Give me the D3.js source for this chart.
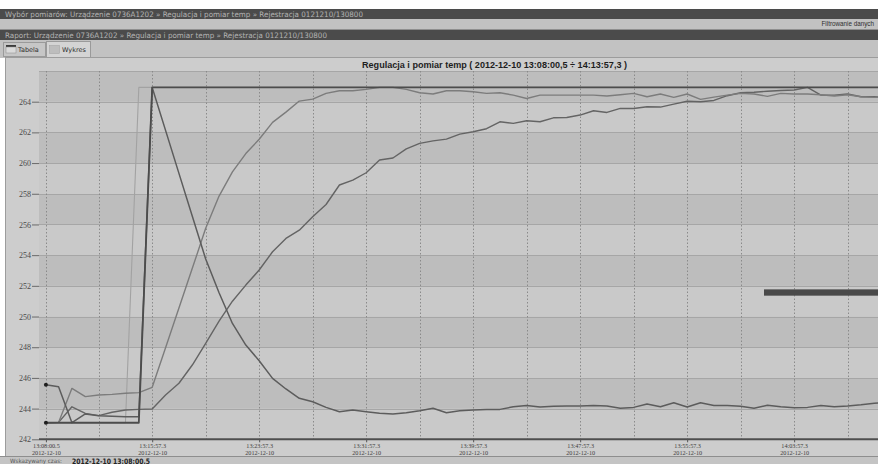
<!DOCTYPE html>
<html>
<head>
<meta charset="utf-8">
<script src="https://cdn.jsdelivr.net/npm/d3@7"></script>
<style>
  html, body { margin: 0; padding: 0; background: #ffffff; overflow: hidden; }
  svg { display: block; }
</style>
</head>
<body>
<svg id="app" width="878" height="464"></svg>
<script>
// ---- Measurement data: Regulacja i pomiar temp, 2012-12-10 ----
const sampleTimes = [
  "13:08:00.5","13:08:57.3","13:09:57.3","13:10:57.3","13:11:57.3","13:12:57.3","13:13:57.3","13:14:57.3",
  "13:15:57.3","13:16:57.3","13:17:57.3","13:18:57.3","13:19:57.3","13:20:57.3","13:21:57.3","13:22:57.3",
  "13:23:57.3","13:24:57.3","13:25:57.3","13:26:57.3","13:27:57.3","13:28:57.3","13:29:57.3","13:30:57.3",
  "13:31:57.3","13:32:57.3","13:33:57.3","13:34:57.3","13:35:57.3","13:36:57.3","13:37:57.3","13:38:57.3",
  "13:39:57.3","13:40:57.3","13:41:57.3","13:42:57.3","13:43:57.3","13:44:57.3","13:45:57.3","13:46:57.3",
  "13:47:57.3","13:48:57.3","13:49:57.3","13:50:57.3","13:51:57.3","13:52:57.3","13:53:57.3","13:54:57.3",
  "13:55:57.3","13:56:57.3","13:57:57.3","13:58:57.3","13:59:57.3","14:00:57.3","14:01:57.3","14:02:57.3",
  "14:03:57.3","14:04:57.3","14:05:57.3","14:06:57.3","14:07:57.3","14:08:57.3","14:09:57.3","14:10:57.3"
];
const rangeStart = "13:08:00.5";
const rangeEnd = "14:13:57.3";
const recordDate = "2012-12-10";

// set value (temperatura zadana)
const setpoint = [
  243.08,243.08,243.08,243.08,243.08,243.08,243.08,264.93,
  264.93,264.93,264.93,264.93,264.93,264.93,264.93,264.93,
  264.93,264.93,264.93,264.93,264.93,264.93,264.93,264.93,
  264.93,264.93,264.93,264.93,264.93,264.93,264.93,264.93,
  264.93,264.93,264.93,264.93,264.93,264.93,264.93,264.93,
  264.93,264.93,264.93,264.93,264.93,264.93,264.93,264.93,
  264.93,264.93,264.93,264.93,264.93,264.93,264.93,264.93,
  264.93,264.93,264.93,264.93,264.93,264.93,264.93,264.93
];
// controller output
const output = [
  243.08,243.08,243.08,243.08,243.08,243.08,243.08,243.08,
  264.93,264.93,264.93,264.93,264.93,264.93,264.93,264.93,
  264.93,264.93,264.93,264.93,264.93,264.93,264.93,264.93,
  264.93,264.93,264.93,264.93,264.93,264.93,264.93,264.93,
  264.93,264.93,264.93,264.93,264.93,264.93,264.93,264.93,
  264.93,264.93,264.93,264.93,264.93,264.93,264.93,264.93,
  264.93,264.93,264.93,264.93,264.93,264.93,264.93,264.93,
  264.93,264.93,264.93,264.93,264.93,264.93,264.93,264.93
];
// probe 1 (falls after the step)
const probe1 = [
  245.56,245.43,243.08,243.65,243.54,243.50,243.47,243.47,
  264.93,262.13,259.33,256.53,253.75,251.55,249.55,248.14,
  247.12,245.97,245.28,244.67,244.45,244.08,243.80,243.91,
  243.80,243.69,243.65,243.73,243.86,244.02,243.73,243.86,
  243.91,243.95,243.95,244.12,244.20,244.10,244.15,244.17,
  244.17,244.20,244.17,244.02,244.08,244.30,244.12,244.38,
  244.10,244.38,244.20,244.20,244.15,244.03,244.22,244.12,
  244.05,244.08,244.20,244.12,244.17,244.25,244.35,244.38
];
// probe 2 (fast rise)
const probe2 = [
  243.08,243.10,245.32,244.78,244.89,244.93,245.00,245.04,
  245.39,247.97,250.55,253.14,255.75,257.85,259.43,260.62,
  261.55,262.65,263.32,264.04,264.17,264.54,264.71,264.71,
  264.80,264.93,264.93,264.80,264.58,264.50,264.71,264.71,
  264.65,264.54,264.58,264.43,264.21,264.43,264.43,264.43,
  264.43,264.43,264.37,264.45,264.54,264.32,264.50,264.28,
  264.50,264.15,264.30,264.43,264.54,264.50,264.35,264.54,
  264.50,264.50,264.45,264.37,264.45,264.32,264.28,264.30
];
// probe 3 (slow rise)
const probe3 = [
  243.08,243.10,244.12,243.69,243.54,243.76,243.91,243.95,
  243.97,244.89,245.65,246.84,248.25,249.70,251.00,252.05,
  253.03,254.22,255.09,255.63,256.50,257.30,258.57,258.89,
  259.37,260.20,260.33,260.93,261.28,261.45,261.56,261.89,
  262.04,262.24,262.69,262.59,262.76,262.69,262.95,262.97,
  263.13,263.41,263.30,263.56,263.56,263.67,263.65,263.84,
  264.03,264.00,264.08,264.39,264.58,264.62,264.68,264.73,
  264.76,264.93,264.43,264.43,264.50,264.32,264.32,264.28
];

const yTicks = [242,244,246,248,250,252,254,256,258,260,262,264];
const xTickTimes = ["13:08:00.5","13:15:57.3","13:23:57.3","13:31:57.3","13:39:57.3","13:47:57.3","13:55:57.3","14:03:57.3"];
const xGridTimes = ["13:08:00.5","13:11:57.3","13:15:57.3","13:19:57.3","13:23:57.3","13:27:57.3","13:31:57.3","13:35:57.3",
                    "13:39:57.3","13:43:57.3","13:47:57.3","13:51:57.3","13:55:57.3","13:59:57.3","14:03:57.3","14:07:57.3","14:11:57.3"];

// cursor bar shown on the right side of the plot
const cursorBarFrom = "14:01:42.1";
const cursorBarValues = [251.36, 251.77];

// ---- helpers ----
function parseClock(s) {
  const [h, m, sec] = s.split(":");
  return new Date(2012, 11, 10, +h, +m, 0, Math.round(parseFloat(sec) * 1000));
}
function clockLabel(d) {
  return d3.timeFormat("%H:%M:%S")(d) + "." + Math.floor(d.getMilliseconds() / 100);
}

const W = 878, H = 464;
const svg = d3.select("#app");
const UI_FONT = "'DejaVu Sans', Verdana, sans-serif";
const AX_FONT = "'Liberation Serif', 'DejaVu Serif', serif";

// ---- application chrome ----
svg.append("rect").attr("x", 0).attr("y", 0).attr("width", W).attr("height", H).attr("fill", "#ffffff");
svg.append("rect").attr("x", 0).attr("y", 9).attr("width", W).attr("height", 10).attr("fill", "#4b4b4b");
svg.append("rect").attr("x", 0).attr("y", 19).attr("width", W).attr("height", 10).attr("fill", "#c2c2c2");
svg.append("rect").attr("x", 0).attr("y", 29).attr("width", W).attr("height", 1).attr("fill", "#8f8f8f");
svg.append("rect").attr("x", 0).attr("y", 30).attr("width", W).attr("height", 10).attr("fill", "#4b4b4b");
svg.append("rect").attr("x", 0).attr("y", 40).attr("width", W).attr("height", 18).attr("fill", "#c2c2c2");

svg.append("text").attr("x", 5).attr("y", 17).attr("font-family", UI_FONT).attr("font-size", 7.5)
  .attr("fill", "#b3b3b3").attr("textLength", 358).attr("lengthAdjust", "spacingAndGlyphs")
  .text("Wybór pomiarów:  Urządzenie 0736A1202 » Regulacja i pomiar temp » Rejestracja 0121210/130800");
svg.append("text").attr("x", 874).attr("y", 26).attr("text-anchor", "end")
  .attr("font-family", "'Liberation Sans', Arial, sans-serif")
  .attr("font-size", 6.3).attr("fill", "#2e2e2e")
  .text("Filtrowanie danych");
svg.append("text").attr("x", 5).attr("y", 38).attr("font-family", UI_FONT).attr("font-size", 7.5)
  .attr("fill", "#b3b3b3").attr("textLength", 322).attr("lengthAdjust", "spacingAndGlyphs")
  .text("Raport:  Urządzenie 0736A1202 » Regulacja i pomiar temp » Rejestracja 0121210/130800");

// tabs
const tabs = svg.append("g");
tabs.append("rect").attr("x", 3.5).attr("y", 42.5).attr("width", 42).attr("height", 14)
  .attr("fill", "#c6c6c6").attr("stroke", "#9a9a9a");
tabs.append("rect").attr("x", 6).attr("y", 45).attr("width", 10).attr("height", 2).attr("fill", "#3a3a3a");
tabs.append("rect").attr("x", 6).attr("y", 47).attr("width", 10).attr("height", 6).attr("fill", "#dadada").attr("stroke", "#8a8a8a").attr("stroke-width", 0.5);
tabs.append("text").attr("x", 18).attr("y", 52).attr("font-family", UI_FONT).attr("font-size", 6.5)
  .attr("fill", "#2e2e2e").text("Tabela");
tabs.append("rect").attr("x", 46.5).attr("y", 41.5).attr("width", 44).attr("height", 16)
  .attr("fill", "#d4d4d4").attr("stroke", "#9a9a9a");
tabs.append("rect").attr("x", 49.5).attr("y", 45.5).attr("width", 10).attr("height", 8)
  .attr("fill", "#bdbdbd").attr("stroke", "#a0a0a0").attr("stroke-width", 0.5);
tabs.append("text").attr("x", 62).attr("y", 52).attr("font-family", UI_FONT).attr("font-size", 6.5)
  .attr("fill", "#2e2e2e").text("Wykres");

// chart panel
svg.append("rect").attr("x", 5.5).attr("y", 57.5).attr("width", W).attr("height", 399)
  .attr("fill", "#cdcdcd").attr("stroke", "#9c9c9c");

// status bar
svg.append("rect").attr("x", 0).attr("y", 456).attr("width", W).attr("height", 8).attr("fill", "#c4c4c4");
svg.append("line").attr("x1", 0).attr("x2", W).attr("y1", 456.5).attr("y2", 456.5).attr("stroke", "#8e8e8e");
svg.append("text").attr("x", 10).attr("y", 463).attr("font-family", UI_FONT).attr("font-size", 6)
  .attr("fill", "#555").attr("textLength", 52).attr("lengthAdjust", "spacingAndGlyphs").text("Wskazywany czas:");
svg.append("text").attr("x", 72).attr("y", 463.5).attr("font-family", UI_FONT).attr("font-size", 7.5)
  .attr("font-weight", "bold").attr("fill", "#222").attr("textLength", 78).attr("lengthAdjust", "spacingAndGlyphs")
  .text(recordDate + " 13:08:00,5");

// ---- chart ----
const plotLeft = 39, plotTop = 71, plotBottom = 439.3;
const pxPerSecond = 0.2229;
const tStart = parseClock(rangeStart), tStop = parseClock(rangeEnd);
const padMs = 31000;
const domainStart = new Date(+tStart - padMs), domainStop = new Date(+tStop + padMs);
const plotRight = plotLeft + (domainStop - domainStart) / 1000 * pxPerSecond;

const x = d3.scaleTime().domain([domainStart, domainStop]).range([plotLeft, plotRight]);
const y = d3.scaleLinear().domain([242, 266]).range([plotBottom, plotTop]);

// title
svg.append("text").attr("x", 494.5).attr("y", 68).attr("text-anchor", "middle")
  .attr("font-family", "'Liberation Sans', Arial, sans-serif").attr("font-size", 9.5).attr("font-weight", "bold")
  .attr("fill", "#1e1e1e").attr("textLength", 265).attr("lengthAdjust", "spacingAndGlyphs")
  .text("Regulacja i pomiar temp ( " + recordDate + " 13:08:00,5 ÷ 14:13:57,3 )");

svg.append("clipPath").attr("id", "plotClip").append("rect")
  .attr("x", plotLeft).attr("y", plotTop - 2).attr("width", plotRight - plotLeft).attr("height", plotBottom - plotTop + 2);

const plotG = svg.append("g").attr("clip-path", "url(#plotClip)");

// alternating value bands
const bandStarts = d3.range(242, 266, 2);
plotG.selectAll("rect.band").data(bandStarts).join("rect").attr("class", "band")
  .attr("x", plotLeft).attr("width", plotRight - plotLeft)
  .attr("y", d => y(d + 2)).attr("height", d => y(d) - y(d + 2))
  .attr("fill", d => ((d - 242) / 2) % 2 === 1 ? "#bdbdbd" : "#c9c9c9");

// horizontal grid
plotG.selectAll("line.hgrid").data(yTicks.concat([266])).join("line").attr("class", "hgrid")
  .attr("x1", plotLeft).attr("x2", plotRight)
  .attr("y1", d => Math.round(y(d)) + 0.5).attr("y2", d => Math.round(y(d)) + 0.5)
  .attr("stroke", "#a6a6a6").attr("stroke-width", 1);

// vertical dotted grid
plotG.selectAll("line.vgrid").data(xGridTimes.map(parseClock)).join("line").attr("class", "vgrid")
  .attr("x1", d => Math.round(x(d)) + 0.5).attr("x2", d => Math.round(x(d)) + 0.5)
  .attr("y1", plotTop).attr("y2", plotBottom)
  .attr("stroke", "#8a8a8a").attr("stroke-width", 1).attr("stroke-dasharray", "1.5,2");

// series
const times = sampleTimes.map(parseClock);
const lineGen = vals => d3.line().x((d, i) => x(times[i])).y(d => y(d))(vals);
const series = [
  { values: setpoint, color: "#a2a2a2", width: 1.1 },
  { values: probe3,   color: "#646464", width: 1.4 },
  { values: probe2,   color: "#7c7c7c", width: 1.4 },
  { values: probe1,   color: "#5c5c5c", width: 1.5 },
  { values: output,   color: "#4c4c4c", width: 1.8 }
];
plotG.selectAll("path.series").data(series).join("path").attr("class", "series")
  .attr("d", s => lineGen(s.values)).attr("fill", "none")
  .attr("stroke", s => s.color).attr("stroke-width", s => s.width)
  .attr("stroke-linejoin", "round");

// cursor markers at the indicated time
const cursorIndex = 0;
plotG.selectAll("circle.cur").data([probe1, output]).join("circle").attr("class", "cur")
  .attr("cx", x(times[cursorIndex])).attr("cy", v => y(v[cursorIndex])).attr("r", 2)
  .attr("fill", "#1e1e1e");

// cursor bar
plotG.append("rect")
  .attr("x", x(parseClock(cursorBarFrom))).attr("width", plotRight)
  .attr("y", y(cursorBarValues[1])).attr("height", y(cursorBarValues[0]) - y(cursorBarValues[1]))
  .attr("fill", "#494949");

// y axis
const yAxis = d3.axisLeft(y).tickValues(yTicks).tickSize(7).tickPadding(1).tickFormat(d3.format("d"));
const yG = svg.append("g").attr("transform", `translate(${plotLeft},0)`).call(yAxis);
yG.select(".domain").remove();
yG.selectAll(".tick line").attr("stroke", "#6a6a6a");
yG.selectAll(".tick text").attr("font-family", AX_FONT).attr("font-size", 8).attr("fill", "#4a4a4a");

// x axis
const xAxis = d3.axisBottom(x).tickValues(xTickTimes.map(parseClock)).tickSize(3).tickFormat("");
const xG = svg.append("g").attr("transform", `translate(0,${plotBottom})`).call(xAxis);
xG.select(".domain").attr("stroke", "#4e4e4e").attr("stroke-width", 2)
  .attr("d", `M${plotLeft},0H${plotRight}`);
xG.selectAll(".tick line").attr("stroke", "#555");
xG.selectAll(".tick").each(function (d) {
  const t = d3.select(this).append("text").attr("fill", "#3e3e3e").attr("font-family", AX_FONT)
    .attr("font-size", 6.2).attr("text-anchor", "middle");
  t.append("tspan").attr("x", 0).attr("y", 8.5).text(clockLabel(d));
  t.append("tspan").attr("x", 0).attr("y", 15.3).text(recordDate);
});
</script>
</body>
</html>
